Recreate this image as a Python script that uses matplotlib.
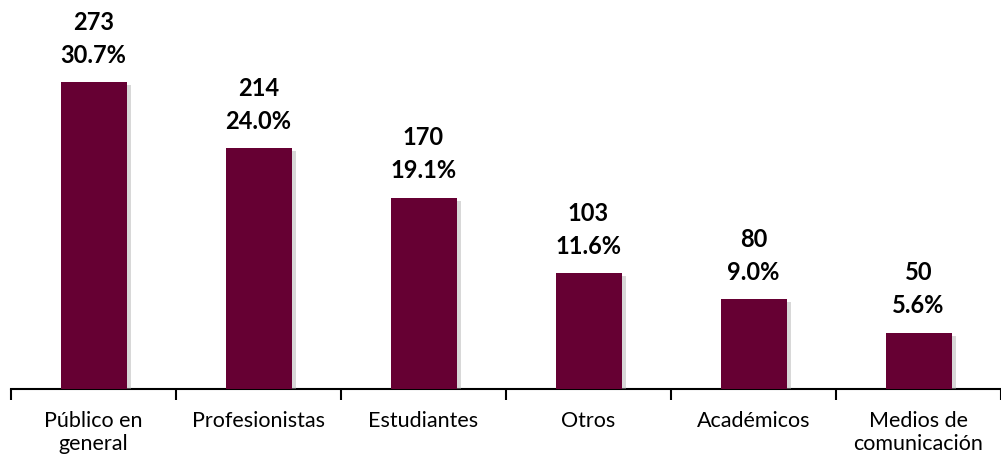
import matplotlib.pyplot as plt
import matplotlib.patheffects as pe
import numpy as np

categories = ['Público en\ngeneral', 'Profesionistas', 'Estudiantes',
              'Otros', 'Académicos', 'Medios de\ncomunicación']
counts = [273, 214, 170, 103, 80, 50]
percents = [30.7, 24.0, 19.1, 11.6, 9.0, 5.6]

bar_color = '#660033'
fs_lab = 15.5
fs_val = 17
plt.rcParams['font.family'] = ['Lato', 'DejaVu Sans']


def main():
    fig = plt.figure(figsize=(10.01, 4.6), dpi=100)
    ax = fig.add_axes([11 / 1001, 70 / 460, 990 / 1001, 390 / 460])

    x = np.arange(len(categories))
    bars = ax.bar(x, counts, width=0.4, color=bar_color, zorder=3)
    for b in bars:
        b.set_path_effects([pe.SimplePatchShadow(offset=(3, -2), shadow_rgbFace='#aaaaaa', alpha=0.45),
                            pe.Normal()])

    for xi, c, p in zip(x, counts, percents):
        ax.annotate(f'{p:.1f}%', (xi, c), xytext=(0, 28), textcoords='offset pixels',
                    ha='center', va='center', fontsize=fs_val, fontweight='bold')
        ax.annotate(f'{c}', (xi, c), xytext=(0, 61), textcoords='offset pixels',
                    ha='center', va='center', fontsize=fs_val, fontweight='bold')

    ax.set_xlim(-0.5, -0.5 + 990 / 167)
    ax.set_ylim(0, 390 / 1.1245)

    ax.set_xticks(x)
    ax.set_xticklabels(categories, fontsize=fs_lab, linespacing=1.2)
    ax.set_xticks(np.arange(-0.5, len(categories), 1.0), minor=True)
    ax.tick_params(axis='x', which='major', length=0, pad=15)
    ax.tick_params(axis='x', which='minor', length=8, width=1.5, direction='out')
    ax.set_yticks([])

    for s in ['top', 'right', 'left']:
        ax.spines[s].set_visible(False)
    ax.spines['bottom'].set_linewidth(1.5)

    plt.savefig('out.png', dpi=100)
    plt.close()


if __name__ == "__main__":
    main()
